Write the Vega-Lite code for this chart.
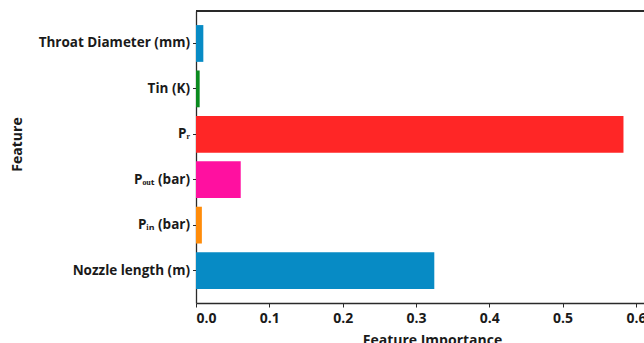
{
  "$schema": "https://vega.github.io/schema/vega-lite/v6.json",
  "autosize": "none",
  "width": 448,
  "height": 292,
  "padding": {"left": 196, "top": 11, "right": 0, "bottom": 40},
  "background": "white",
  "config": {
    "view": {"stroke": null},
    "font": "Open Sans",
    "axis": {
      "labelFont": "Open Sans",
      "labelFontWeight": "bold",
      "labelFontSize": 13.5,
      "labelColor": "#1a1a1a",
      "titleFont": "Open Sans",
      "titleFontWeight": "bold",
      "titleFontSize": 14,
      "titleColor": "#1a1a1a",
      "domainColor": "#2a2a2a",
      "domainWidth": 1.3,
      "tickColor": "#2a2a2a",
      "grid": false
    }
  },
  "data": {
    "values": [
      {"feature": "Throat Diameter (mm)", "importance": 0.010},
      {"feature": "Tin (K)", "importance": 0.005},
      {"feature": "Pᵣ", "importance": 0.583},
      {"feature": "Pₒᵤₜ (bar)", "importance": 0.061},
      {"feature": "Pᵢₙ (bar)", "importance": 0.008},
      {"feature": "Nozzle length (m)", "importance": 0.325}
    ]
  },
  "layer": [
    {
      "mark": {"type": "bar"},
      "encoding": {
        "y": {
          "field": "feature",
          "type": "nominal",
          "sort": null,
          "scale": {"paddingInner": 0.19, "paddingOuter": 0.31},
          "axis": {
            "title": "Feature",
            "titleAngle": 270,
            "titleX": -179,
            "titleY": 133,
            "titleBaseline": "middle",
            "titleAlign": "center",
            "tickSize": 3.5,
            "labelPadding": 3,
            "domain": true
          }
        },
        "x": {
          "field": "importance",
          "type": "quantitative",
          "scale": {"domain": [0, 0.611], "nice": false},
          "axis": {
            "title": "Feature Importance",
            "values": [0, 0.1, 0.2, 0.3, 0.4, 0.5, 0.6],
            "format": ".1f",
            "labelFontSize": 14,
            "tickSize": 4,
            "labelPadding": 4,
            "titleX": 236,
            "titleY": 41,
            "titleBaseline": "alphabetic",
            "titleAlign": "center"
          }
        },
        "color": {
          "field": "feature",
          "type": "nominal",
          "legend": null,
          "scale": {
            "domain": ["Throat Diameter (mm)", "Tin (K)", "Pᵣ", "Pₒᵤₜ (bar)", "Pᵢₙ (bar)", "Nozzle length (m)"],
            "range": ["#078bc5", "#0a8a1e", "#ff2626", "#ff10a0", "#ff8c0a", "#078bc5"]
          }
        }
      }
    },
    {
      "mark": {"type": "rule", "color": "#2a2a2a", "strokeWidth": 1.3},
      "encoding": {
        "x": {"datum": 0, "type": "quantitative"},
        "x2": {"datum": 0.611},
        "y": {"value": 0}
      }
    }
  ]
}
